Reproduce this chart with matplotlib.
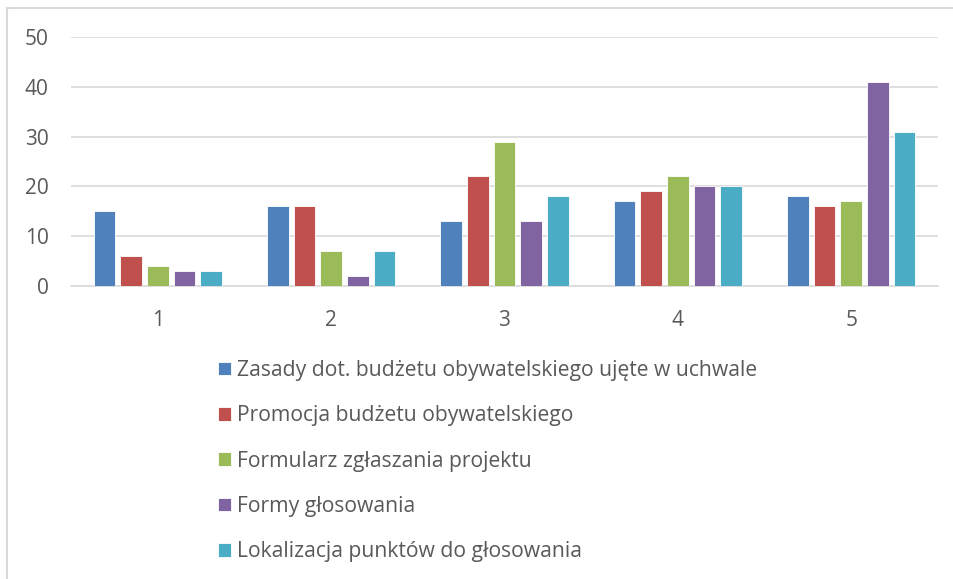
import matplotlib
matplotlib.use("Agg")
import matplotlib.pyplot as plt
from matplotlib.patches import Rectangle
import numpy as np

plt.rcParams['font.family'] = ['Open Sans', 'DejaVu Sans']

categories = ["1", "2", "3", "4", "5"]
series_names = [
    "Zasady dot. budżetu obywatelskiego ujęte w uchwale",
    "Promocja budżetu obywatelskiego",
    "Formularz zgłaszania projektu",
    "Formy głosowania",
    "Lokalizacja punktów do głosowania",
]
zasady = [15, 16, 13, 17, 18]
promocja = [6, 16, 22, 19, 16]
formularz = [4, 7, 29, 22, 17]
formy = [3, 2, 13, 20, 41]
lokalizacja = [3, 7, 18, 20, 31]
series_values = [zasady, promocja, formularz, formy, lokalizacja]
colors = ["#4F81BD", "#C0504D", "#9BBB59", "#8064A2", "#4BACC6"]
yticks = [0, 10, 20, 30, 40, 50]

W, H = 954, 579
fig = plt.figure(figsize=(W / 100, H / 100), dpi=100)
ax = fig.add_axes([71 / W, (H - 286) / H, (938 - 71) / W, (286 - 37) / H])

x = np.arange(len(categories))
pitch = 1 / 6.5
bw = 0.125
for i, (name, vals, c) in enumerate(zip(series_names, series_values, colors)):
    ax.bar(x + (i - 2) * pitch, vals, width=bw, color=c, edgecolor="white",
           linewidth=0.6, label=name, zorder=3)

ax.set_xlim(-0.5, len(categories) - 0.5)
ax.set_ylim(0, 50)
ax.set_yticks(yticks)
ax.set_xticks(x)
ax.set_xticklabels(categories)
ax.grid(axis="y", color="#D9D9D9", linewidth=1.2, zorder=0)
for s in ["top", "right", "left"]:
    ax.spines[s].set_visible(False)
ax.spines["bottom"].set_color("#D9D9D9")
ax.spines["bottom"].set_linewidth(1.2)
ax.tick_params(axis="both", length=0, labelsize=15, labelcolor="#595959")
ax.tick_params(axis="y", pad=16)
ax.tick_params(axis="x", pad=17)

handles, labels = ax.get_legend_handles_labels()
leg = fig.legend(handles, labels, loc="upper left",
                 bbox_to_anchor=(218 / W, 1 - 360 / H), frameon=False,
                 fontsize=15.2, labelcolor="#595959", handlelength=0.62,
                 handleheight=0.62, handletextpad=0.28, labelspacing=1.15,
                 borderaxespad=0, borderpad=0)

fig.patches.append(Rectangle((7 / W, -0.1), 1.2, 1 - 8 / H + 0.1,
                             transform=fig.transFigure, fill=False,
                             edgecolor="#D9D9D9", linewidth=1.5))

fig.savefig("out.png", dpi=100)
